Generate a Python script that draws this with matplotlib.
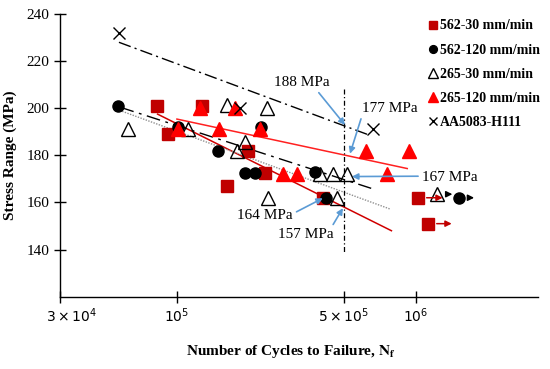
import matplotlib.pyplot as plt
import matplotlib.transforms as mtransforms

plt.rcParams['font.family'] = ['Liberation Serif', 'DejaVu Serif']

# data
sq_30_x = [8.25e4, 9.2e4, 1.27e5, 1.62e5, 1.98e5, 2.33e5, 4.1e5, 1.02e6, 1.12e6]
sq_30_y = [201, 189, 201, 167, 182, 172.5, 162, 162, 151]

c_120_x = [5.65e4, 1.01e5, 1.48e5, 1.92e5, 2.12e5, 2.24e5, 3.78e5, 4.2e5, 1.51e6]
c_120_y = [201, 192, 182, 172.5, 172.5, 192, 173, 162, 162]

t_30_x = [6.24e4, 1.11e5, 1.62e5, 1.78e5, 1.93e5, 2.38e5, 2.4e5, 3.97e5, 4.5e5, 5.14e5, 4.67e5, 1.23e6]
t_30_y = [191, 191, 201.5, 182, 185.5, 200, 162, 172, 172, 172, 162, 163.5]

t_120_x = [1.01e5, 1.25e5, 1.5e5, 1.75e5, 2.22e5, 2.78e5, 3.18e5, 6.2e5, 7.57e5, 9.4e5]
t_120_y = [191, 200, 191, 200, 191, 172, 172, 182, 172, 182]

aa_x = [5.72e4, 1.83e5, 6.6e5]
aa_y = [232, 200, 191]

# trend lines (end points)
fit_aa_x, fit_aa_y = [5.72e4, 6.42e5], [228, 188.5]
fit_t120_x, fit_t120_y = [1.0e5, 9.2e5], [195.4, 174.4]
fit_sq30_x, fit_sq30_y = [8.3e4, 7.9e5], [197.5, 148]
fit_t30_x, fit_t30_y = [5.8e4, 6.5e5], [200.4, 166]
fit_c120_x, fit_c120_y = [5.9e4, 7.8e5], [198.7, 157.2]

# run-out arrows: start x, end x, y, colour
run_start = [1.08e6, 1.19e6, 1.31e6, 1.62e6]
run_end = [1.33e6, 1.45e6, 1.46e6, 1.8e6]
run_y = [162, 151, 163.5, 162]
run_col = ['#c00000', '#c00000', 'black', 'black']

# labelled stresses at 5e5 cycles
ann_text = ['188 MPa', '177 MPa', '167 MPa', '164 MPa', '157 MPa']
ann_txt_xy = [(3.33e5, 211), (7.8e5, 200), (1.39e6, 170.6), (2.33e5, 154.6), (3.46e5, 146.2)]
ann_pt_xy = [(5.05e5, 192.9), (5.3e5, 180.7), (5.4e5, 171), (4.08e5, 161.8), (4.95e5, 157.6)]
ann_rel = [(0.75, 0), (0, 0), (0, 0.6), (1, 0.6), (0.95, 1)]

fig = plt.figure(figsize=(5.5, 3.69), dpi=100)
ax = fig.add_axes([0.109, 0.196, 0.869, 0.766])
ax.set_xscale('log')

blue = '#5b9bd5'
ax.plot(fit_aa_x, fit_aa_y, color='black', lw=1, ls=(0, (9, 3, 1.5, 3)))
ax.plot(fit_t120_x, fit_t120_y, color='#ff2020', lw=1.1)
ax.plot(fit_sq30_x, fit_sq30_y, color='#d00000', lw=1.1)
ax.plot(fit_t30_x, fit_t30_y, color='black', lw=1, ls=(0, (10, 4, 2, 4)))
ax.plot(fit_c120_x, fit_c120_y, color='#909090', lw=1, ls=(0, (1, 1)))
ax.plot([5e5, 5e5], [208, 139], color='black', lw=0.9, ls=(0, (4, 2, 1, 2)))

for x0, x1, y, c in zip(run_start, run_end, run_y, run_col):
    ax.annotate('', xy=(x1, y), xytext=(x0, y),
                arrowprops=dict(arrowstyle='-|>', color=c, lw=1.1, mutation_scale=9))

ax.plot(sq_30_x, sq_30_y, 's', color='#c00000', ms=8, ls='none', label='562-30 mm/min')
ax.plot(c_120_x, c_120_y, 'o', color='black', ms=8, ls='none', label='562-120 mm/min')
ax.plot(t_30_x, t_30_y, '^', mfc='none', mec='black', ms=10, mew=1, ls='none', label='265-30 mm/min')
ax.plot(t_120_x, t_120_y, '^', color='#ff0000', ms=10, ls='none', label='265-120 mm/min')
ax.plot(aa_x, aa_y, 'x', color='black', ms=9, mew=1, ls='none', label='AA5083-H111')

for t, txy, pxy, rp in zip(ann_text, ann_txt_xy, ann_pt_xy, ann_rel):
    ax.annotate(t, xy=pxy, xytext=txy, fontsize=11, ha='center', va='center',
                arrowprops=dict(arrowstyle='-|>', color=blue, lw=1.2, mutation_scale=9,
                                shrinkA=1, shrinkB=0, relpos=rp))

ax.set_xlim(3.24e4, 3.24e6)
ax.set_ylim(120, 240)
ax.set_yticks([140, 160, 180, 200, 220, 240])
ax.set_xticks([3.24e4, 1e5, 5e5, 1e6])
ax.set_xticklabels([r'$3\times10^4$', r'$10^5$', r'$5\times10^5$', r'$10^6$'])
ax.minorticks_off()
ax.tick_params(direction='inout', length=8, width=1, labelsize=11)
ax.tick_params(axis='x', pad=3)
for lab in ax.get_xticklabels():
    lab.set_family('DejaVu Sans')
    lab.set_fontsize(10)
first = ax.get_xticklabels()[0]
first.set_transform(first.get_transform() + mtransforms.ScaledTranslation(0.12, 0, fig.dpi_scale_trans))

for s in ['top', 'right']:
    ax.spines[s].set_visible(False)
ax.spines['left'].set_linewidth(1)
ax.spines['bottom'].set_linewidth(1)

ax.set_ylabel('Stress Range (MPa)', fontsize=11, fontweight='bold', labelpad=7)
xl = ax.set_xlabel(r'Number of Cycles to Failure, $\mathbf{N_f}$', fontsize=11,
                   fontweight='bold', labelpad=13)
xl.set_math_fontfamily('stix')
xl.set_x(0.483)

leg = ax.legend(loc='upper left', bbox_to_anchor=(0.745, 1.025), frameon=False,
                handlelength=0.6, handletextpad=0.2, labelspacing=0.8,
                prop={'weight': 'bold', 'size': 10}, markerscale=0.7)

fig.savefig('out.png', dpi=100)
